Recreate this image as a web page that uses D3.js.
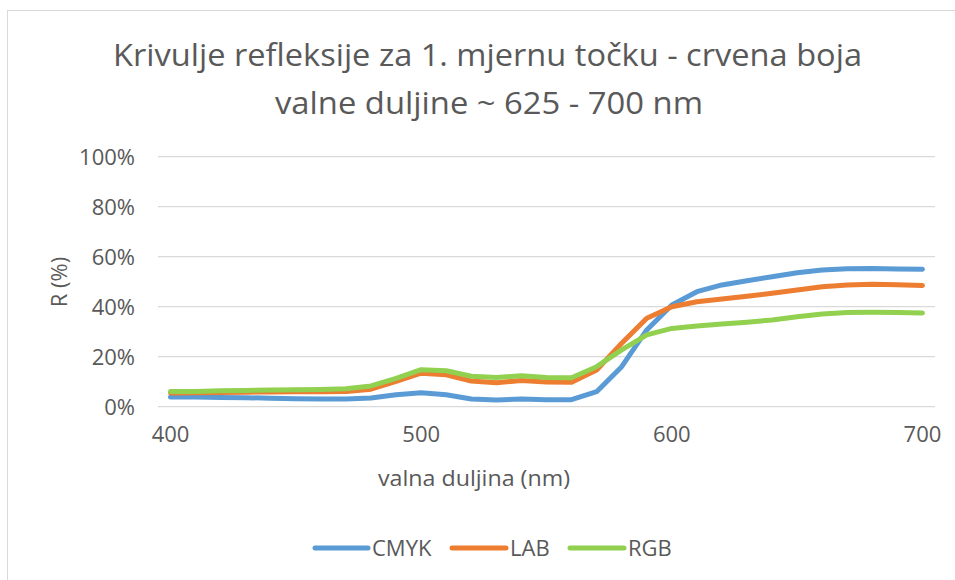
<!DOCTYPE html>
<html>
<head>
<meta charset="utf-8">
<script src="https://cdn.jsdelivr.net/npm/d3@7"></script>
<style>
  html, body { margin: 0; padding: 0; background: #fff; }
  svg text { font-family: "Open Sans", "Noto Sans", sans-serif; fill: #595959; }
</style>
</head>
<body>
<svg id="chart" width="955" height="580"></svg>
<script>
// Wavelength categories (nm) and reflectance (%) per colour workflow
const wavelengths = [400,410,420,430,440,450,460,470,480,490,500,510,520,530,540,550,560,570,580,590,600,610,620,630,640,650,660,670,680,690,700];
const cmyk = [3.9,3.9,3.7,3.6,3.4,3.2,3.1,3.1,3.5,4.8,5.6,4.8,3.1,2.7,3.1,2.8,2.8,6.0,16.0,30.7,40.7,46.0,48.7,50.4,52.0,53.6,54.7,55.2,55.3,55.1,55.0];
const lab  = [5.5,5.6,5.7,5.8,5.9,6.0,6.0,6.1,7.0,10.1,13.4,12.8,10.3,9.6,10.5,9.9,9.8,14.7,25.4,35.4,40.0,42.0,43.1,44.2,45.4,46.7,48.0,48.7,49.0,48.8,48.5];
const rgb  = [6.1,6.1,6.4,6.5,6.7,6.8,6.9,7.2,8.3,11.3,14.8,14.4,12.2,11.7,12.4,11.7,11.6,16.0,22.7,28.7,31.3,32.3,33.1,33.8,34.7,36.0,37.1,37.7,37.8,37.7,37.5];
const seriesNames = ["CMYK", "LAB", "RGB"];
const seriesColors = ["#5B9BD5", "#ED7D31", "#92D050"];
const yTicks = [0, 20, 40, 60, 80, 100];
const xTickLabels = [400, 500, 600, 700];
const titleLines = ["Krivulje refleksije za 1. mjernu točku - crvena boja", "valne duljine ~ 625 - 700 nm"];

const series = [cmyk, lab, rgb];

const svg = d3.select("#chart");

// Chart frame
svg.append("rect")
  .attr("x", 7.5).attr("y", 10.5)
  .attr("width", 960).attr("height", 600)
  .attr("fill", "#fff").attr("stroke", "#d9d9d9").attr("stroke-width", 1);

const plot = { left: 158, right: 935, top: 156.7, bottom: 406.7 };

const x = d3.scaleBand()
  .domain(wavelengths)
  .range([plot.left, plot.right])
  .padding(0);

const y = d3.scaleLinear()
  .domain([0, 100])
  .range([plot.bottom, plot.top]);

// Horizontal gridlines
svg.append("g")
  .selectAll("line")
  .data(yTicks)
  .join("line")
  .attr("x1", plot.left).attr("x2", plot.right)
  .attr("y1", d => y(d)).attr("y2", d => y(d))
  .attr("stroke", "#d9d9d9").attr("stroke-width", 1.3);

// Y axis labels
const yAxis = d3.axisLeft(y).tickValues(yTicks).tickFormat(d => d + "%").tickSize(0).tickPadding(0);
const gy = svg.append("g").attr("transform", `translate(${plot.left - 23},0)`).call(yAxis);
gy.select(".domain").remove();
gy.selectAll("text")
  .attr("font-size", 22).attr("font-family", null).attr("fill", "#595959")
  .attr("dy", "0.35em");

// X axis labels (every 100 nm)
const xAxis = d3.axisBottom(x).tickValues(xTickLabels).tickSize(0).tickPadding(0);
const gx = svg.append("g").attr("transform", `translate(0,${plot.bottom + 20})`).call(xAxis);
gx.select(".domain").remove();
gx.selectAll("text")
  .attr("font-size", 22).attr("font-family", null).attr("fill", "#595959")
  .attr("dy", "0.71em");

// Series lines
const line = d3.line()
  .x((d, i) => x(wavelengths[i]) + x.bandwidth() / 2)
  .y(d => y(d));

svg.append("g")
  .selectAll("path")
  .data(series)
  .join("path")
  .attr("d", d => line(d))
  .attr("fill", "none")
  .attr("stroke", (d, i) => seriesColors[i])
  .attr("stroke-width", 5)
  .attr("stroke-linejoin", "round")
  .attr("stroke-linecap", "round");

// Title
svg.append("text")
  .attr("x", 487.5).attr("y", 66)
  .attr("text-anchor", "middle")
  .attr("font-size", 31)
  .attr("textLength", 749).attr("lengthAdjust", "spacingAndGlyphs")
  .text(titleLines[0]);
svg.append("text")
  .attr("x", 489).attr("y", 114)
  .attr("text-anchor", "middle")
  .attr("font-size", 31)
  .attr("textLength", 428).attr("lengthAdjust", "spacingAndGlyphs")
  .text(titleLines[1]);

// Axis titles
svg.append("text")
  .attr("transform", `translate(67,282) rotate(-90)`)
  .attr("text-anchor", "middle")
  .attr("font-size", 22)
  .text("R (%)");

svg.append("text")
  .attr("x", 474).attr("y", 486)
  .attr("text-anchor", "middle")
  .attr("font-size", 22)
  .attr("textLength", 192).attr("lengthAdjust", "spacingAndGlyphs")
  .text("valna duljina (nm)");

// Legend
const legendItems = [
  { name: seriesNames[0], color: seriesColors[0], x1: 315, x2: 368, tx: 372 },
  { name: seriesNames[1], color: seriesColors[1], x1: 452, x2: 506, tx: 510 },
  { name: seriesNames[2], color: seriesColors[2], x1: 570, x2: 624, tx: 628 }
];
const lg = svg.append("g");
lg.selectAll("line")
  .data(legendItems)
  .join("line")
  .attr("x1", d => d.x1).attr("x2", d => d.x2)
  .attr("y1", 548).attr("y2", 548)
  .attr("stroke", d => d.color)
  .attr("stroke-width", 5)
  .attr("stroke-linecap", "round");
lg.selectAll("text")
  .data(legendItems)
  .join("text")
  .attr("x", d => d.tx).attr("y", 555.5)
  .attr("font-size", 22)
  .text(d => d.name);
</script>
</body>
</html>
